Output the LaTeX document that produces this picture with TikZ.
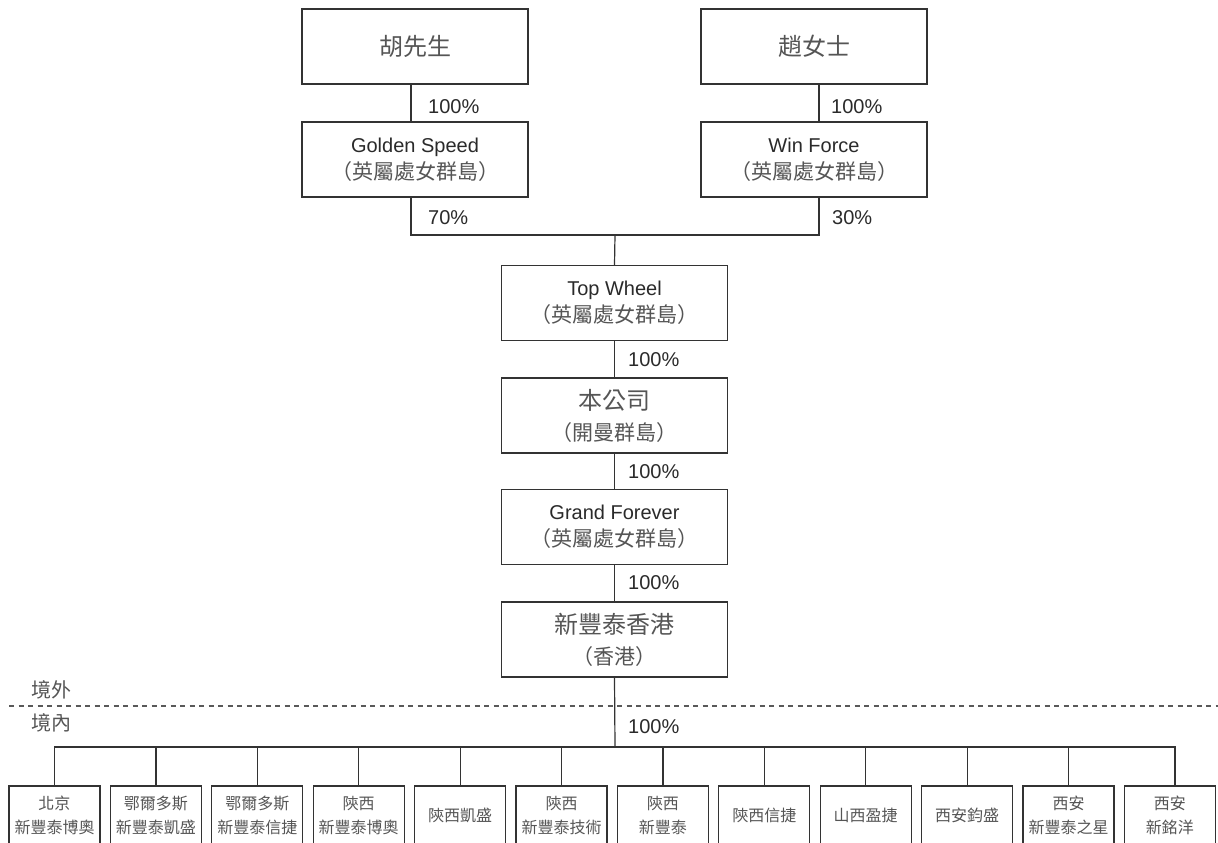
\documentclass[tikz,border=0pt]{standalone}
\usepackage{fontspec}
\setmainfont{Liberation Sans}
\newfontfamily\cjk{Noto Sans CJK TC}
\definecolor{cjkgray}{HTML}{555555}
\definecolor{latgray}{HTML}{2A2A2A}
\definecolor{linegray}{HTML}{333333}
\newcommand\bigcjk[1]{{\cjk\fontsize{24}{24}\selectfont\color{cjkgray}#1}}
\newcommand\subcjk[1]{{\cjk\fontsize{21}{21}\selectfont\color{cjkgray}#1}}
\newcommand\latn[1]{{\fontsize{20}{20}\selectfont\color{latgray}#1}}
\tikzset{
  box/.style={draw=linegray, line width=1.3pt, minimum width=226pt, minimum height=75pt,
    inner sep=0pt, align=center, font=\fontsize{20}{27}\selectfont},
  cbox/.style={box, font=\fontsize{24}{31}\selectfont},
  sbox/.style={draw=linegray, line width=1.2pt, minimum width=91pt, minimum height=58.5pt,
    inner sep=0pt, align=center, font=\cjk\fontsize{16}{24}\selectfont, text=cjkgray},
  conn/.style={draw=linegray, line width=1.2pt},
  pct/.style={anchor=west, inner sep=0pt, font=\fontsize{20}{20}\selectfont, text=latgray},
  zone/.style={anchor=west, inner sep=0pt, font=\cjk\fontsize{20}{20}\selectfont, text=cjkgray},
  dashline/.style={draw=black!65, line width=1.1pt, dash pattern=on 5pt off 4.5pt}
}
\begin{document}
\begin{tikzpicture}[x=1pt,y=-1pt]
\useasboundingbox (0,0) rectangle (1218,843);

% top boxes
\node[box] (hu) at (415,46.5) {\bigcjk{胡先生}};
\node[box] (zhao) at (814,46.5) {\bigcjk{趙女士}};
\node[box] (gs) at (415,159.5) {\latn{Golden Speed}\\\subcjk{（英屬處女群島）}};
\node[box] (wf) at (814,159.5) {\latn{Win Force}\\\subcjk{（英屬處女群島）}};
\node[box] (tw) at (614.5,303) {\latn{Top Wheel}\\\subcjk{（英屬處女群島）}};
\node[cbox] (co) at (614.5,415.5) {\bigcjk{本公司}\\\subcjk{（開曼群島）}};
\node[box] (gf) at (614.5,527) {\latn{Grand Forever}\\\subcjk{（英屬處女群島）}};
\node[cbox] (hk) at (614.5,639.5) {\bigcjk{新豐泰香港}\\\subcjk{（香港）}};

% bottom boxes
\node[sbox] (b1) at (54.5,815.25) {北京\\新豐泰博奧};
\node[sbox] (b2) at (155.9,815.25) {鄂爾多斯\\新豐泰凱盛};
\node[sbox] (b3) at (257.3,815.25) {鄂爾多斯\\新豐泰信捷};
\node[sbox] (b4) at (358.7,815.25) {陝西\\新豐泰博奧};
\node[sbox] (b5) at (460.1,815.25) {陝西凱盛};
\node[sbox] (b6) at (561.5,815.25) {陝西\\新豐泰技術};
\node[sbox] (b7) at (662.9,815.25) {陝西\\新豐泰};
\node[sbox] (b8) at (764.3,815.25) {陝西信捷};
\node[sbox] (b9) at (865.7,815.25) {山西盈捷};
\node[sbox] (b10) at (967.1,815.25) {西安鈞盛};
\node[sbox] (b11) at (1068.5,815.25) {西安\\新豐泰之星};
\node[sbox] (b12) at (1169.9,815.25) {西安\\新銘洋};

% connectors
\coordinate (jn) at (615,235);
\coordinate (bus) at (615,747);
\coordinate (busR) at (1175,747);
\draw[conn] ([xshift=-4pt]hu.south) -- ([xshift=-4pt]gs.north);
\draw[conn] ([xshift=5pt]zhao.south) -- ([xshift=5pt]wf.north);
\draw[conn] ([xshift=-4pt]gs.south) |- (jn) -| ([xshift=5pt]wf.south);
\draw[conn] (jn) -- (tw.north);
\draw[conn] (tw.south) -- (co.north);
\draw[conn] (co.south) -- (gf.north);
\draw[conn] (gf.south) -- (hk.north);
\draw[conn] (hk.south) -- (bus);
\draw[conn] (b1.north) |- (busR) -- ([xshift=5.1pt]b12.north);
\foreach \b in {b2,b3,b4,b5,b6,b7,b8,b9,b10,b11}{
  \draw[conn] (\b.north) -- (\b.north |- bus);
}

% dashed border line
\coordinate (dL) at (9,706);
\coordinate (dR) at (1218,706);
\draw[dashline] (dL) -- (dR);
\node[zone] (out) at (31,690) {境外};
\node[zone] (in) at (31,723) {境內};

% percentages
\node[pct] (p1) at (428,107) {100\%};
\node[pct] (p2) at (831,107) {100\%};
\node[pct] (p3) at (428,218) {70\%};
\node[pct] (p4) at (832,218) {30\%};
\node[pct] (p5) at (628,360) {100\%};
\node[pct] (p6) at (628,472) {100\%};
\node[pct] (p7) at (628,583) {100\%};
\node[pct] (p8) at (628,727) {100\%};
\end{tikzpicture}
\end{document}
